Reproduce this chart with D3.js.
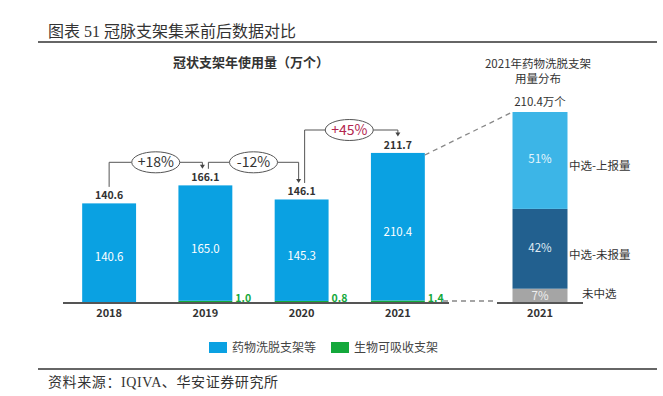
<!DOCTYPE html>
<html><head><meta charset="utf-8">
<script src="https://cdn.jsdelivr.net/npm/d3@7"></script>
<style>
body{margin:0;background:#fff;}
text{font-family:"Noto Sans CJK SC","Noto Sans",sans-serif;}
</style></head>
<body>
<svg id="c" width="663" height="396"></svg>
<script>
// ---- data ----
const years = ["2018", "2019", "2020", "2021"];
const desValues = [140.6, 165.0, 145.3, 210.4];   // 药物洗脱支架等
const bvsValues = [0, 1.0, 0.8, 1.4];             // 生物可吸收支架
const totals = [140.6, 166.1, 146.1, 211.7];
const growthLabels = ["+18%", "-12%", "+45%"];
const shareCats = ["未中选", "中选-未报量", "中选-上报量"];
const shareValues = [7, 42, 51];
const shareTotalLabel = "210.4万个";
const seriesNames = ["药物洗脱支架等", "生物可吸收支架"];

const svg = d3.select("#c");
const C = {blue:"#0aa1e2", green:"#14a83b", light:"#3cb5e7", dark:"#22608f", gray:"#a5a5a5", txt:"#333"};

// header
svg.append("text").attr("x",48).attr("y",31).attr("dy","0.35em")
  .attr("font-size",16).attr("fill","#333")
  .style("font-family","'Liberation Serif','Noto Sans CJK SC',serif")
  .text("图表 51 冠脉支架集采前后数据对比");
svg.append("line").attr("x1",38).attr("x2",657).attr("y1",42).attr("y2",42).attr("stroke","#333").attr("stroke-width",1.3);
svg.append("line").attr("x1",38).attr("x2",657).attr("y1",369).attr("y2",369).attr("stroke","#333").attr("stroke-width",1.3);
svg.append("text").attr("x",48).attr("y",382).attr("dy","0.35em")
  .attr("font-size",14).attr("letter-spacing",0.6).attr("fill","#333")
  .style("font-family","'Liberation Serif','Noto Sans CJK SC',serif")
  .text("资料来源：IQIVA、华安证券研究所");

// chart title
svg.append("text").attr("x",251).attr("y",62).attr("dy","0.35em").attr("text-anchor","middle")
  .attr("font-size",13).attr("font-weight","bold").attr("fill","#333").text("冠状支架年使用量（万个）");

// scales
const x = d3.scaleBand().domain(years).range([61,446]).paddingInner(0.44).paddingOuter(0.22);
const y = d3.scaleLinear().domain([0,211.7]).range([303,153]);
const cx = d => x(d) + x.bandwidth()/2;

// bars
const g = svg.append("g");
years.forEach((yr,i)=>{
  if(bvsValues[i]>0){
    g.append("rect").attr("x",x(yr)).attr("width",x.bandwidth())
      .attr("y",y(bvsValues[i])-1.5).attr("height",y(0)-y(bvsValues[i])+1.5).attr("fill",C.green);
    g.append("text").attr("x",x(yr)+x.bandwidth()+3).attr("y",y(0)-5).attr("dy","0.35em")
      .attr("font-size",10.5).attr("font-weight","bold").attr("fill",C.green).text(bvsValues[i].toFixed(1));
  }
  g.append("rect").attr("x",x(yr)).attr("width",x.bandwidth())
    .attr("y",y(bvsValues[i]+desValues[i])).attr("height",y(bvsValues[i])-y(bvsValues[i]+desValues[i]) - (bvsValues[i]>0?1.5:0))
    .attr("fill",C.blue);
  g.append("text").attr("x",cx(yr)).attr("y",y(desValues[i]/2)+4).attr("dy","0.35em").attr("text-anchor","middle")
    .attr("font-size",11.5).attr("fill","#fff").text(desValues[i].toFixed(1));
  g.append("text").attr("x",cx(yr)).attr("y",y(totals[i])-8).attr("dy","0.35em").attr("text-anchor","middle")
    .attr("font-size",10.5).attr("font-weight","bold").attr("fill",C.txt).text(totals[i].toFixed(1));
  g.append("text").attr("x",cx(yr)).attr("y",313).attr("dy","0.35em").attr("text-anchor","middle")
    .attr("font-size",11).attr("font-weight","bold").attr("fill",C.txt).text(yr);
});
// axis line
svg.append("line").attr("x1",63).attr("x2",449).attr("y1",y(0)).attr("y2",y(0)).attr("stroke","#555").attr("stroke-width",2);

// growth annotations
growthLabels.forEach((lab,i)=>{
  const x1 = cx(years[i]) + (i===0?0:3);
  const x2 = cx(years[i+1]) - (i===growthLabels.length-1?0:3);
  const ey = y(Math.max(totals[i],totals[i+1])) - 23;
  const em = (x1+x2)/2 - (i===2?2:0);
  const y1 = y(totals[i]) - 16.5, y2 = y(totals[i+1]) - 16.5;
  const rx = 24, ry = 10.5;
  const a = svg.append("g").attr("fill","none").attr("stroke","#555").attr("stroke-width",1);
  a.append("path").attr("d",`M${x1},${y1}V${ey}H${em-rx}`);
  a.append("path").attr("d",`M${em+rx},${ey}H${x2}V${y2-3}`);
  svg.append("path").attr("d",`M${x2-2.5},${y2-4}L${x2+2.5},${y2-4}L${x2},${y2}Z`).attr("fill","#444");
  a.append("ellipse").attr("cx",em).attr("cy",ey).attr("rx",rx).attr("ry",ry).attr("fill","#fff");
  svg.append("text").attr("x",em).attr("y",ey).attr("dy","0.35em").attr("text-anchor","middle")
    .attr("font-size",14).attr("fill", lab==="+45%"?"#b3254f":"#333").text(lab);
});

// right panel
const x2s = d3.scaleBand().domain(["2021"]).range([497,583]).padding(0.22);
const y2 = d3.scaleLinear().domain([0,100]).range([302,112]);
const segColors = [C.gray, C.dark, C.light];
const segText = ["#eee","#dfeaf3","#e6f6fd"];
let acc = 0;
shareValues.forEach((v,i)=>{
  svg.append("rect").attr("x",x2s("2021")).attr("width",x2s.bandwidth())
    .attr("y",y2(acc+v)).attr("height",y2(acc)-y2(acc+v)).attr("fill",segColors[i]);
  svg.append("text").attr("x",x2s("2021")+x2s.bandwidth()/2).attr("y",y2(acc+v/2)+(i===0?1:-1)).attr("dy","0.35em")
    .attr("text-anchor","middle").attr("font-size",11.5).attr("fill",segText[i]).text(v+"%");
  svg.append("text").attr("x", i===0?582:569).attr("y",y2(acc+v/2)+(i===0?-1:6)).attr("dy","0.35em")
    .attr("font-size",11.5).attr("fill","#333").text(shareCats[i]);
  acc += v;
});
svg.append("line").attr("x1",497).attr("x2",583).attr("y1",303).attr("y2",303).attr("stroke","#555").attr("stroke-width",2);
svg.append("text").attr("x",540).attr("y",313).attr("dy","0.35em").attr("text-anchor","middle")
  .attr("font-size",11).attr("font-weight","bold").attr("fill",C.txt).text("2021");
svg.append("text").attr("x",540).attr("y",y2(100)-10).attr("dy","0.35em").attr("text-anchor","middle")
  .attr("font-size",11.5).attr("fill","#333").text(shareTotalLabel);
svg.append("text").attr("x",538).attr("y",64).attr("dy","0.35em").attr("text-anchor","middle")
  .attr("font-size",11.5).attr("fill","#333").text("2021年药物洗脱支架");
svg.append("text").attr("x",538).attr("y",79).attr("dy","0.35em").attr("text-anchor","middle")
  .attr("font-size",11.5).attr("fill","#333").text("用量分布");

// dashed connectors
svg.append("line").attr("x1",x("2021")+x.bandwidth()).attr("y1",y(totals[3])+2)
  .attr("x2",x2s("2021")).attr("y2",y2(100)).attr("stroke","#888").attr("stroke-width",1.3).attr("stroke-dasharray","5,4");
svg.append("line").attr("x1",443).attr("y1",301).attr("x2",497).attr("y2",301)
  .attr("stroke","#888").attr("stroke-width",1.3).attr("stroke-dasharray","5,4");

// legend
const lg = svg.append("g");
[[209,C.blue],[331,C.green]].forEach(([lx,col],i)=>{
  lg.append("rect").attr("x",lx).attr("y",342).attr("width",18).attr("height",11).attr("fill",col);
  lg.append("text").attr("x",lx+23).attr("y",348).attr("dy","0.35em").attr("font-size",12).attr("fill","#444").text(seriesNames[i]);
});
</script>
</body></html>
